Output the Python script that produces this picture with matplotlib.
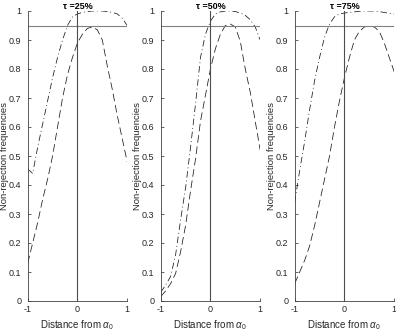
import matplotlib
matplotlib.use("Agg")
import matplotlib.pyplot as plt
import numpy as np

plt.rcParams['font.family'] = ['Liberation Sans', 'DejaVu Sans']
plt.rcParams['mathtext.fontset'] = 'custom'
plt.rcParams['mathtext.rm'] = 'Liberation Sans'
plt.rcParams['mathtext.it'] = 'Liberation Sans:italic'

# Data
distance = [-1.0, -0.9, -0.8, -0.7, -0.6, -0.5, -0.4, -0.3, -0.2, -0.1, 0.0,
             0.1, 0.2, 0.3, 0.4, 0.5, 0.6, 0.7, 0.8, 0.9, 1.0]
titles = ['τ =25%', 'τ =50%', 'τ =75%']

dashdot_25 = [0.455, 0.44, 0.53, 0.61, 0.69, 0.77, 0.84, 0.90, 0.95, 0.98, 0.99,
              0.995, 0.998, 1.0, 1.0, 1.0, 0.998, 0.995, 0.99, 0.975, 0.95]
dashed_25 = [0.13, 0.20, 0.27, 0.35, 0.42, 0.50, 0.60, 0.70, 0.78, 0.84, 0.89,
             0.92, 0.94, 0.945, 0.935, 0.90, 0.81, 0.73, 0.64, 0.56, 0.48]

dashdot_50 = [0.03, 0.055, 0.085, 0.16, 0.28, 0.39, 0.53, 0.68, 0.84, 0.92, 0.965,
              0.99, 0.997, 1.0, 1.0, 0.998, 0.993, 0.985, 0.97, 0.945, 0.90]
dashed_50 = [0.015, 0.035, 0.06, 0.095, 0.17, 0.26, 0.38, 0.49, 0.62, 0.71, 0.80,
             0.87, 0.92, 0.95, 0.955, 0.945, 0.895, 0.80, 0.72, 0.62, 0.52]

dashdot_75 = [0.34, 0.45, 0.55, 0.66, 0.76, 0.84, 0.91, 0.955, 0.98, 0.99, 0.993,
              0.995, 0.997, 0.999, 1.0, 1.0, 1.0, 0.998, 0.995, 0.992, 0.99]
dashed_75 = [0.06, 0.10, 0.14, 0.19, 0.26, 0.34, 0.42, 0.50, 0.60, 0.69, 0.77,
             0.84, 0.90, 0.93, 0.945, 0.948, 0.945, 0.93, 0.89, 0.84, 0.79]

nominal = 0.95
yticks = [0, 0.1, 0.2, 0.3, 0.4, 0.5, 0.6, 0.7, 0.8, 0.9, 1.0]
ytick_labels = ['0', '0.1', '0.2', '0.3', '0.4', '0.5', '0.6', '0.7', '0.8', '0.9', '1']
xticks = [-1, 0, 1]
xtick_labels = ['-1', '0', '1']

series = [(dashdot_25, dashed_25), (dashdot_50, dashed_50), (dashdot_75, dashed_75)]

fig = plt.figure(figsize=(3.96, 3.32), dpi=100)
lefts = [27.7, 160.7, 294.7]
W, H = 396.0, 332.0
for i, (dd, ds) in enumerate(series):
    ax = fig.add_axes([lefts[i] / W, (H - 301) / H, 99.5 / W, 290 / H])
    ax.plot(distance, dd, color='0.1', lw=0.55, linestyle=(0, (8.5, 3.8, 1.2, 3.8)))
    ax.plot(distance, ds, color='0.1', lw=0.55, linestyle=(0, (10, 5)))
    ax.axhline(nominal, color='0.5', lw=0.8)
    ax.axvline(0, color='0.3', lw=0.8)
    ax.set_xlim(-1, 1)
    ax.set_ylim(0, 1)
    ax.set_xticks(xticks)
    ax.set_xticklabels(xtick_labels)
    ax.set_yticks(yticks)
    ax.set_yticklabels(ytick_labels)
    ax.tick_params(direction='in', length=2.5, width=0.5, labelsize=6.5,
                   colors='0.15')
    ax.tick_params(axis='y', pad=4.5)
    ax.tick_params(axis='x', pad=3)
    for s in ['top', 'right']:
        ax.spines[s].set_visible(False)
    for s in ['left', 'bottom']:
        ax.spines[s].set_linewidth(0.6)
        ax.spines[s].set_color('0.25')
    ax.set_title(titles[i], fontsize=6.5, fontweight='bold', pad=1.5)
    ax.set_xlabel(r'Distance from $\alpha_0$', fontsize=7, labelpad=3, color='0.15')
    ax.set_ylabel('Non-rejection frequencies', fontsize=6.8, color='0.15')
    ax.yaxis.set_label_coords(-0.185, 0.5)

fig.savefig('out.png', dpi=100)
